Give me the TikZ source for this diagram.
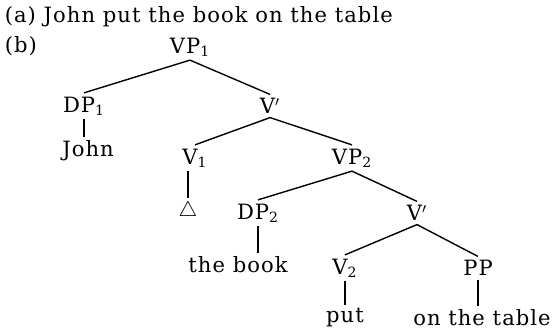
\documentclass[tikz,border=0pt]{standalone}
\usepackage{fontspec}
\setmainfont{DejaVu Serif}[LetterSpace=5]
\usepackage{tikz}
\usetikzlibrary{positioning}

\begin{document}
\begin{tikzpicture}[x=0.02cm, y=-0.02cm,
    cat/.style={inner sep=2pt, font=\fontsize{12}{14}\selectfont},
    branch/.style={line width=0.8pt}]
    \useasboundingbox (0,0) rectangle (552,331);

    \node[cat, anchor=west] (ex) at (1,17) {(a) John put the book on the table};
    \node[cat, anchor=west] (lb) at (1,46) {(b)};

    \node[cat] (vp1) at (190,47) {VP\textsubscript{1}};
    \node[cat] (dp1) at (84,106) {DP\textsubscript{1}};
    \node[cat] (vbar1) at (270,106) {V$'$};
    \node[cat] (john) at (88,151) {John};
    \node[cat] (v1) at (195,158) {V\textsubscript{1}};
    \node[cat] (vp2) at (352,158) {VP\textsubscript{2}};
    \node[cat] (tri) at (188,211) {$\triangle$};
    \node[cat] (dp2) at (258,213) {DP\textsubscript{2}};
    \node[cat] (vbar2) at (417,213) {V$'$};
    \node[cat] (book) at (238,265) {the book};
    \node[cat] (v2) at (345,268) {V\textsubscript{2}};
    \node[cat] (pp) at (478,268) {PP};
    \node[cat] (put) at (345,318) {put};
    \node[cat] (tbl) at (482,318) {on the table};

    \draw[branch] (vp1.south) -- (dp1.north);
    \draw[branch] (vp1.south) -- (vbar1.north);
    \draw[branch] (vbar1.south) -- (v1.north);
    \draw[branch] (vbar1.south) -- (vp2.north);
    \draw[branch] (vp2.south) -- (dp2.north);
    \draw[branch] (vp2.south) -- (vbar2.north);
    \draw[branch] (vbar2.south) -- (v2.north);
    \draw[branch] (vbar2.south) -- (pp.north);

    \draw[branch] (dp1.south) -- (dp1.south |- john.north);
    \draw[branch] (v1.south -| tri.north) -- (tri.north);
    \draw[branch] (dp2.south) -- (dp2.south |- book.north);
    \draw[branch] (v2.south) -- (put.north);
    \draw[branch] (pp.south) -- (pp.south |- tbl.north);
\end{tikzpicture}
\end{document}
